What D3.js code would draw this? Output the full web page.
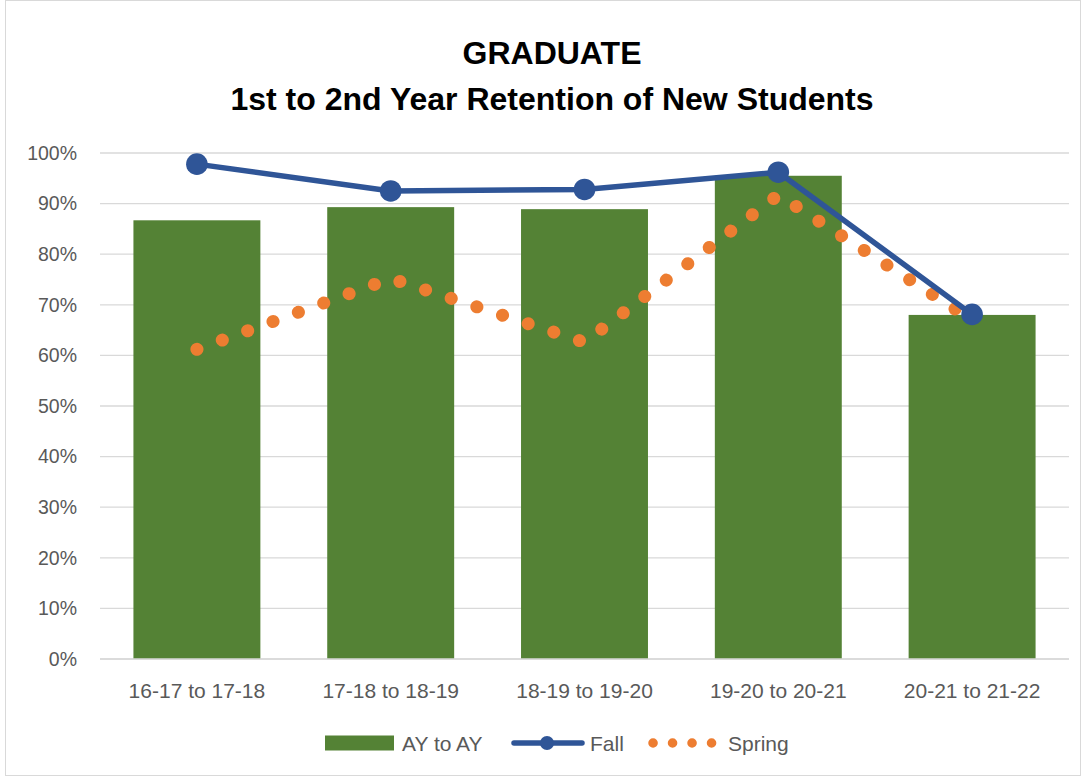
<!DOCTYPE html>
<html>
<head>
<meta charset="utf-8">
<script src="https://cdn.jsdelivr.net/npm/d3@7"></script>
<style>
  body { margin: 0; background: #fff; }
  text { font-family: "Liberation Sans", Arial, sans-serif; }
</style>
</head>
<body>
<div id="chart"></div>
<script>
// data
const categories = ["16-17 to 17-18", "17-18 to 18-19", "18-19 to 19-20", "19-20 to 20-21", "20-21 to 21-22"];
const ayToAy = [86.7, 89.3, 88.9, 95.5, 68.0];
const fall = [97.8, 92.5, 92.8, 96.2, 68.1];
const spring = [61.2, 75.2, 62.6, 91.7, 67.0];
const yTicks = [0, 10, 20, 30, 40, 50, 60, 70, 80, 90, 100];
const titleLines = ["GRADUATE", "1st to 2nd Year Retention of New Students"];

const w = 1086, h = 778;
const plotLeft = 100, plotRight = 1069, plotTop = 153, plotBottom = 659;

const svg = d3.select("#chart").append("svg")
  .attr("width", w)
  .attr("height", h);

// outer frame
svg.append("rect")
  .attr("x", 5.5).attr("y", 0.5)
  .attr("width", w - 11).attr("height", h - 3)
  .attr("fill", "#fff")
  .attr("stroke", "#d9d9d9");

const x = d3.scaleBand()
  .domain(categories)
  .range([plotLeft, plotRight])
  .paddingInner(0.345)
  .paddingOuter(0.1725);

const y = d3.scaleLinear()
  .domain([0, 100])
  .range([plotBottom, plotTop]);

const cx = d => x(d) + x.bandwidth() / 2;

// gridlines
svg.append("g")
  .selectAll("line")
  .data(yTicks)
  .join("line")
  .attr("x1", plotLeft).attr("x2", plotRight)
  .attr("y1", d => y(d)).attr("y2", d => y(d))
  .attr("stroke", "#d9d9d9")
  .attr("stroke-width", 1.3);

// y axis labels
const yAxis = d3.axisLeft(y).tickValues(yTicks).tickFormat(d => d + "%").tickSize(0).tickPadding(23);
svg.append("g")
  .attr("transform", "translate(" + plotLeft + ",0)")
  .call(yAxis)
  .call(g => g.select(".domain").remove())
  .selectAll("text")
  .attr("fill", "#595959")
  .style("font-size", "19.5px")
  .style("font-family", "Liberation Sans, Arial, sans-serif");

// x axis
const xAxis = d3.axisBottom(x).tickSize(0);
svg.append("g")
  .attr("transform", "translate(0," + plotBottom + ")")
  .call(xAxis)
  .call(g => g.select(".domain").remove())
  .selectAll("text")
  .attr("y", 38.5)
  .attr("dy", 0)
  .attr("fill", "#595959")
  .style("font-size", "21px")
  .style("font-family", "Liberation Sans, Arial, sans-serif");

// bars
svg.append("g")
  .selectAll("rect")
  .data(ayToAy)
  .join("rect")
  .attr("x", (d, i) => x(categories[i]))
  .attr("y", d => y(d))
  .attr("width", x.bandwidth())
  .attr("height", d => y(0) - y(d))
  .attr("fill", "#548235");

// base axis line over the bars
svg.append("line")
  .attr("x1", plotLeft).attr("x2", plotRight)
  .attr("y1", plotBottom).attr("y2", plotBottom)
  .attr("stroke", "#d9d9d9")
  .attr("stroke-width", 1.3);

// spring: round dots along the line
const springLine = d3.line()
  .x((d, i) => cx(categories[i]))
  .y(d => y(d));

svg.append("path")
  .datum(spring)
  .attr("d", springLine)
  .attr("fill", "none")
  .attr("stroke", "#ed7d31")
  .attr("stroke-width", 13)
  .attr("stroke-linecap", "round")
  .attr("stroke-dasharray", "0.1 26.9");

// fall line with markers
const fallLine = d3.line()
  .x((d, i) => cx(categories[i]))
  .y(d => y(d));

svg.append("path")
  .datum(fall)
  .attr("d", fallLine)
  .attr("fill", "none")
  .attr("stroke", "#2f5597")
  .attr("stroke-width", 5.5)
  .attr("stroke-linejoin", "round");

svg.append("g")
  .selectAll("circle")
  .data(fall)
  .join("circle")
  .attr("cx", (d, i) => cx(categories[i]))
  .attr("cy", d => y(d))
  .attr("r", 10.8)
  .attr("fill", "#2f5597");

// title
svg.append("g")
  .selectAll("text")
  .data(titleLines)
  .join("text")
  .attr("x", 552)
  .attr("y", (d, i) => 63.5 + i * 46)
  .attr("text-anchor", "middle")
  .attr("fill", "#000")
  .style("font-size", "32px")
  .style("font-weight", "bold")
  .text(d => d);

// legend
const legend = svg.append("g").attr("transform", "translate(0,743)");
legend.append("rect")
  .attr("x", 325).attr("y", -7.5)
  .attr("width", 69).attr("height", 15)
  .attr("fill", "#548235");
legend.append("text")
  .attr("x", 402).attr("y", 7.5)
  .attr("fill", "#595959").style("font-size", "21px")
  .text("AY to AY");

legend.append("line")
  .attr("x1", 514).attr("x2", 582)
  .attr("y1", 0).attr("y2", 0)
  .attr("stroke", "#2f5597").attr("stroke-width", 5.5)
  .attr("stroke-linecap", "round");
legend.append("circle")
  .attr("cx", 547).attr("cy", 0).attr("r", 7)
  .attr("fill", "#2f5597");
legend.append("text")
  .attr("x", 590).attr("y", 7.5)
  .attr("fill", "#595959").style("font-size", "21px")
  .text("Fall");

legend.append("line")
  .attr("x1", 653).attr("x2", 712)
  .attr("y1", 0).attr("y2", 0)
  .attr("stroke", "#ed7d31").attr("stroke-width", 9.5)
  .attr("stroke-linecap", "round")
  .attr("stroke-dasharray", "0.1 19.4");
legend.append("text")
  .attr("x", 728).attr("y", 7.5)
  .attr("fill", "#595959").style("font-size", "21px")
  .text("Spring");
</script>
</body>
</html>
